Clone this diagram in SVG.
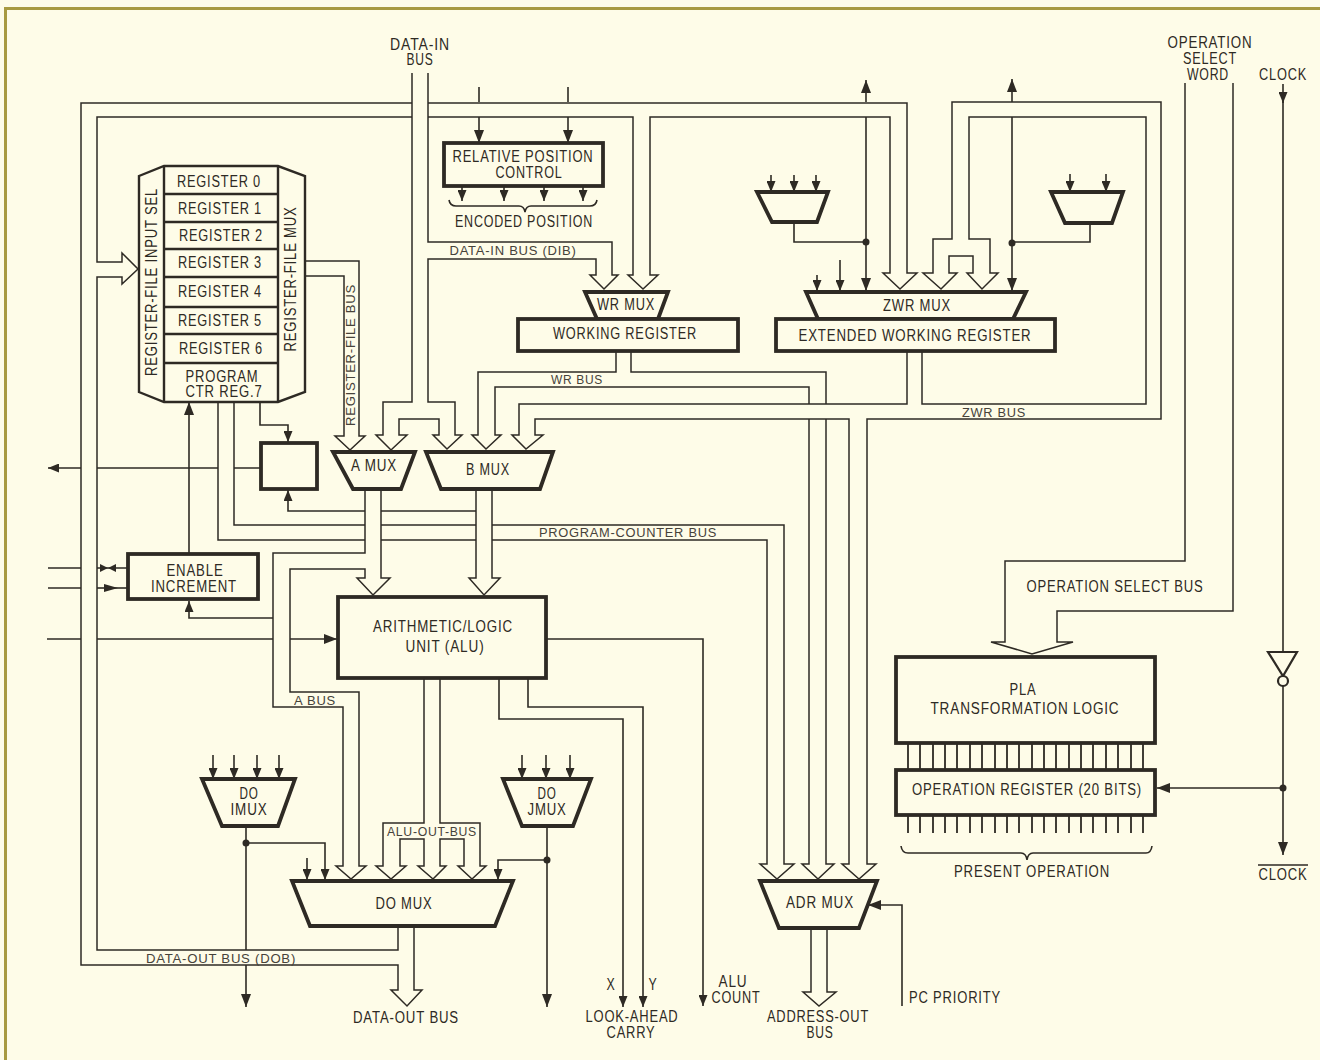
<svg xmlns="http://www.w3.org/2000/svg" width="1320" height="1060" viewBox="0 0 1320 1060">
<style>
.l{fill:none;stroke:#2e2a24;stroke-width:1.5;stroke-linejoin:miter}
.s{fill:none;stroke:#2e2a24;stroke-width:1.6}
.a{marker-end:url(#ah)}
.A{marker-end:url(#AH)}
.n{fill:#fefce8;stroke:#2e2a24;stroke-width:3.8;stroke-linejoin:miter}
.m{fill:#fefce8;stroke:#2e2a24;stroke-width:2.2}
.f{fill:#2e2a24}
text{font-family:"Liberation Sans",Arial,sans-serif;font-size:16px;letter-spacing:1px;text-anchor:middle;fill:#2e2a24}
text.b{font-size:12.5px;letter-spacing:.7px;fill:#46423a}
text.st{text-anchor:start}
</style>
<defs>
<marker id="ah" markerUnits="userSpaceOnUse" markerWidth="11" markerHeight="9" refX="11" refY="4.5" orient="auto"><path d="M0,0L11,4.5L0,9Z" fill="#2e2a24"/></marker>
<marker id="AH" markerUnits="userSpaceOnUse" markerWidth="13" markerHeight="10" refX="13" refY="5" orient="auto"><path d="M0,0L13,5L0,10Z" fill="#2e2a24"/></marker>
</defs>
<rect width="1320" height="1060" fill="#fefce8"/>
<path d="M1320,8.5H5.5V1060" fill="none" stroke="#a89a40" stroke-width="3"/>

<g id="connectors">
<path class="l" d="M412,103H81V965H398V990H391L407,1006L422,990H414V927"/>
<path class="l" d="M412,117H97V262H122V253L138,269L122,284V277H97V950H398V927"/>
<path class="l" d="M428,103H907V273H917L900,289L883,273H890V117H650V275H658L643,289L628,275H633V117H428"/>
<path class="l" d="M412,73V402H383V435H376L391,450L407,435H399V419H439V435H433L447,449L462,435H455V402H428V259H596V275H590L604,289L618,275H612V242H428V73"/>
<path class="l" d="M306,261H359V436H365L350,450L335,436H344V276H306"/>
<path class="l" d="M616,352V372H478V435H472L486,449L501,435H495V387H809V404M809,419V864H802L818,879L834,864H826V419M826,404V372H631V352"/>
<path class="l" d="M907,352V404H519V435H512L526,449L543,435H535V419H849V864H842L859,879L876,864H867V419H1161V102H952V239H933V273H923L941,289L957,273H949V256H973V273H967L982,289L998,273H990V239H969V117H1146V404H922V352"/>
<path class="l" d="M218,402V540H365M381,540H476M234,402V525H365M381,525H476M492,525H784V864H794L777,879L760,864H767V540H492M381,511H476"/>
<path class="l" d="M365,489V553H273V707H343V866H336L351,879L366,866H359V692H290V569H365V578H357L373,595L390,578H381V489"/>
<path class="l" d="M476,489V578H469L484,595L500,578H492V489"/>
<path class="l" d="M424,678V823H383V866H376L391,879L406,866H400V839H424V866H418L433,879L446,866H440V839H464V866H458L472,879L486,866H480V823H440V678"/>
<path class="l" d="M1185,83V561H1005V642H991L1032,654L1073,642H1057V611H1233V83"/>
<path class="l" d="M811,928V992H803L819,1006L836,992H827V928"/>

<path class="s A" d="M866,102V80"/>
<path class="s A" d="M866,117V291"/>
<path class="s A" d="M1012,102V79"/>
<path class="s A" d="M1012,117V291"/>
<path class="s" d="M794,222V242H866M1090,223V242H1012"/>
<path class="s a" d="M771,175V192"/><path class="s a" d="M794,175V192"/><path class="s a" d="M816,175V192"/>
<path class="s a" d="M1070,174V192"/><path class="s a" d="M1106,174V192"/>
<path class="s a" d="M817,275V291"/><path class="s a" d="M840,260V291"/>
<path class="s" d="M479,87V102M568,87V102"/>
<path class="s A" d="M479,117V143"/><path class="s A" d="M568,117V143"/>
<path class="s a" d="M462,186V201"/><path class="s a" d="M504,186V201"/><path class="s a" d="M544,186V201"/><path class="s a" d="M583,186V201"/>
<path class="s" d="M449,200Q450,206 456,206H519Q524,206 525,212Q526,206 531,206H590Q596,206 597,200"/>
<path class="s a" d="M260,402V425H288V442"/>
<path class="s a" d="M365,511H288V490"/>
<path class="s" d="M261,468H234M218,468H97"/>
<path class="s a" d="M81,468H48"/>
<path class="s A" d="M189,554V402"/>
<path class="s a" d="M273,618H189V601"/>
<path class="s" d="M48,568H81M97,568H128"/>
<path class="f" d="M100,564L108,568L100,572ZM116,564L108,568L116,572Z"/>
<path class="s" d="M48,588H81"/>
<path class="s" d="M97,588H128"/>
<path class="f" d="M104,584L118,588L104,592Z"/>
<path class="s" d="M47,639H81M97,639H273"/>
<path class="s A" d="M290,639H337"/>
<path class="s a" d="M546,639H703V1006"/>
<path class="s a" d="M499,678V719H623V1007"/>
<path class="s a" d="M528,678V707H643V1007"/>
<path class="s a" d="M213,755V779"/><path class="s a" d="M234,755V779"/><path class="s a" d="M257,755V779"/><path class="s a" d="M279,755V779"/>
<path class="s a" d="M522,755V779"/><path class="s a" d="M546,755V779"/><path class="s a" d="M570,755V779"/>
<path class="s" d="M246,826V950"/>
<path class="s A" d="M246,965V1007"/>
<path class="s A" d="M547,826V1007"/>
<path class="s a" d="M246,843H325V880"/>
<path class="s a" d="M547,860H498V880"/>
<path class="s a" d="M307,858V880"/>
<path class="s A" d="M902,1006V905H868"/>
<path class="s a" d="M1283,84V103"/>
<path class="s" d="M1283,100V652M1283,686V800"/>
<path class="s A" d="M1283,800V855"/>
<path class="s A" d="M1283,788H1157"/>
<path class="l" style="stroke-width:1.8" d="M908,743V770M920,743V770M933,743V770M945,743V770M957,743V770M970,743V770M982,743V770M995,743V770M1007,743V770M1019,743V770M1032,743V770M1044,743V770M1056,743V770M1069,743V770M1081,743V770M1093,743V770M1106,743V770M1118,743V770M1131,743V770M1143,743V770"/>
<path class="l" style="stroke-width:1.8" d="M908,815V833M920,815V833M933,815V833M945,815V833M957,815V833M970,815V833M982,815V833M995,815V833M1007,815V833M1019,815V833M1032,815V833M1044,815V833M1056,815V833M1069,815V833M1081,815V833M1093,815V833M1106,815V833M1118,815V833M1131,815V833M1143,815V833"/>
<path class="s" d="M901,846Q902,853 908,853H1021Q1026,853 1027,860Q1028,853 1033,853H1146Q1151,853 1152,846"/>
<circle class="f" cx="866" cy="242" r="3.5"/>
<circle class="f" cx="1012" cy="243" r="3.5"/>
<circle class="f" cx="246" cy="843" r="3.5"/>
<circle class="f" cx="547" cy="860" r="3.5"/>
<circle class="f" cx="1283" cy="788" r="3.5"/>
</g>

<g id="register-file">
<path class="m" style="stroke-width:2.4" d="M139,176L164,166H278L305,176V392L278,402H164L139,392Z"/>
<path class="m" style="stroke-width:2.4" d="M164,166V402M278,166V402"/>
<path class="m" style="stroke-width:2.4" d="M164,194H278M164,222H278M164,249H278M164,277H278M164,307H278M164,334H278M164,363H278"/>
<text x="219" y="187" textLength="84" lengthAdjust="spacingAndGlyphs">REGISTER 0</text>
<text x="220" y="214" textLength="84" lengthAdjust="spacingAndGlyphs">REGISTER 1</text>
<text x="221" y="241" textLength="84" lengthAdjust="spacingAndGlyphs">REGISTER 2</text>
<text x="220" y="268" textLength="84" lengthAdjust="spacingAndGlyphs">REGISTER 3</text>
<text x="220" y="297" textLength="84" lengthAdjust="spacingAndGlyphs">REGISTER 4</text>
<text x="220" y="326" textLength="84" lengthAdjust="spacingAndGlyphs">REGISTER 5</text>
<text x="221" y="354" textLength="84" lengthAdjust="spacingAndGlyphs">REGISTER 6</text>
<text x="222" y="382" textLength="73" lengthAdjust="spacingAndGlyphs">PROGRAM</text>
<text x="224" y="397" textLength="77" lengthAdjust="spacingAndGlyphs">CTR REG.7</text>
<text transform="translate(157,282) rotate(-90)" textLength="188" lengthAdjust="spacingAndGlyphs">REGISTER-FILE INPUT SEL</text>
<text transform="translate(296,279) rotate(-90)" textLength="145" lengthAdjust="spacingAndGlyphs">REGISTER-FILE MUX</text>
</g>
<g id="unlabeled-box"><rect class="n" x="261" y="443" width="56" height="46"/></g>
<g id="a-mux"><path class="n" d="M333,452H415L401,489H353Z"/><text x="374" y="471" textLength="46" lengthAdjust="spacingAndGlyphs">A MUX</text></g>
<g id="b-mux"><path class="n" d="M426,452H553L540,489H441Z"/><text x="488" y="475" textLength="44" lengthAdjust="spacingAndGlyphs">B MUX</text></g>
<g id="relative-position-control"><rect class="n" x="444" y="143" width="159" height="43"/><text x="523" y="162" textLength="141" lengthAdjust="spacingAndGlyphs">RELATIVE POSITION</text><text x="529" y="178" textLength="67" lengthAdjust="spacingAndGlyphs">CONTROL</text></g>
<g id="encoded-position"><text x="524" y="227" textLength="138" lengthAdjust="spacingAndGlyphs">ENCODED POSITION</text></g>
<g id="wr-mux"><path class="n" d="M585,292H668L658,319H597Z"/><text x="626" y="310" textLength="58" lengthAdjust="spacingAndGlyphs">WR MUX</text></g>
<g id="working-register"><rect class="n" x="518" y="319" width="220" height="32"/><text x="625" y="339" textLength="144" lengthAdjust="spacingAndGlyphs">WORKING REGISTER</text></g>
<g id="zwr-mux"><path class="n" d="M806,292H1026L1013,319H818Z"/><text x="917" y="311" textLength="68" lengthAdjust="spacingAndGlyphs">ZWR MUX</text></g>
<g id="extended-working-register"><rect class="n" x="776" y="319" width="279" height="32"/><text x="915" y="341" textLength="233" lengthAdjust="spacingAndGlyphs">EXTENDED WORKING REGISTER</text></g>
<g id="upper-mux-left"><path class="n" d="M757,192H828L817,222H772Z"/></g>
<g id="upper-mux-right"><path class="n" d="M1051,192H1123L1112,223H1065Z"/></g>
<g id="enable-increment"><rect class="n" x="128" y="554" width="130" height="45"/><text x="195" y="576" textLength="57" lengthAdjust="spacingAndGlyphs">ENABLE</text><text x="194" y="592" textLength="86" lengthAdjust="spacingAndGlyphs">INCREMENT</text></g>
<g id="alu"><rect class="n" x="338" y="597" width="208" height="81"/><text x="443" y="632" textLength="140" lengthAdjust="spacingAndGlyphs">ARITHMETIC/LOGIC</text><text x="445" y="652" textLength="79" lengthAdjust="spacingAndGlyphs">UNIT (ALU)</text></g>
<g id="do-imux"><path class="n" d="M202,779H295L278,826H222Z"/><text x="249" y="799" textLength="19" lengthAdjust="spacingAndGlyphs">DO</text><text x="249" y="815" textLength="37" lengthAdjust="spacingAndGlyphs">IMUX</text></g>
<g id="do-jmux"><path class="n" d="M503,779H591L573,826H522Z"/><text x="547" y="799" textLength="19" lengthAdjust="spacingAndGlyphs">DO</text><text x="547" y="815" textLength="39" lengthAdjust="spacingAndGlyphs">JMUX</text></g>
<g id="do-mux"><path class="n" d="M292,881H513L495,926H310Z"/><text x="404" y="909" textLength="57" lengthAdjust="spacingAndGlyphs">DO MUX</text></g>
<g id="adr-mux"><path class="n" d="M760,881H877L859,928H779Z"/><text x="820" y="908" textLength="68" lengthAdjust="spacingAndGlyphs">ADR MUX</text></g>
<g id="pla"><rect class="n" x="896" y="657" width="259" height="86"/><text x="1023" y="695" textLength="27" lengthAdjust="spacingAndGlyphs">PLA</text><text x="1025" y="714" textLength="189" lengthAdjust="spacingAndGlyphs">TRANSFORMATION LOGIC</text></g>
<g id="operation-register"><rect class="n" x="896" y="770" width="259" height="45"/><text x="1027" y="795" textLength="230" lengthAdjust="spacingAndGlyphs">OPERATION REGISTER (20 BITS)</text></g>
<g id="inverter"><path class="m" d="M1268,652H1297L1283,676Z"/><circle class="m" cx="1283" cy="681" r="5"/></g>

<g id="labels">
<text x="420" y="50" textLength="60" lengthAdjust="spacingAndGlyphs">DATA-IN</text><text x="420" y="65" textLength="27" lengthAdjust="spacingAndGlyphs">BUS</text>
<text x="1210" y="48" textLength="85" lengthAdjust="spacingAndGlyphs">OPERATION</text><text x="1210" y="64" textLength="54" lengthAdjust="spacingAndGlyphs">SELECT</text><text x="1208" y="80" textLength="42" lengthAdjust="spacingAndGlyphs">WORD</text>
<text x="1283" y="80" textLength="48" lengthAdjust="spacingAndGlyphs">CLOCK</text>
<text class="b" x="513" y="255" textLength="127" lengthAdjust="spacingAndGlyphs">DATA-IN BUS (DIB)</text>
<text class="b" x="577" y="384" textLength="52" lengthAdjust="spacingAndGlyphs">WR BUS</text>
<text class="b" x="994" y="417" textLength="64" lengthAdjust="spacingAndGlyphs">ZWR BUS</text>
<text class="b" transform="translate(355,355) rotate(-90)" textLength="142" lengthAdjust="spacingAndGlyphs">REGISTER-FILE BUS</text>
<text class="b" x="628" y="537" textLength="178" lengthAdjust="spacingAndGlyphs">PROGRAM-COUNTER BUS</text>
<text class="b" x="315" y="705" textLength="42" lengthAdjust="spacingAndGlyphs">A BUS</text>
<text class="b" x="432" y="836" textLength="90" lengthAdjust="spacingAndGlyphs">ALU-OUT-BUS</text>
<text class="b" x="221" y="963" textLength="150" lengthAdjust="spacingAndGlyphs">DATA-OUT BUS (DOB)</text>
<text x="1115" y="592" textLength="177" lengthAdjust="spacingAndGlyphs">OPERATION SELECT BUS</text>
<text x="1032" y="877" textLength="156" lengthAdjust="spacingAndGlyphs">PRESENT OPERATION</text>
<text x="1283" y="880" textLength="49" lengthAdjust="spacingAndGlyphs">CLOCK</text>
<path class="s" d="M1258,865H1308"/>
<text x="406" y="1023" textLength="106" lengthAdjust="spacingAndGlyphs">DATA-OUT BUS</text>
<text x="611" y="990" textLength="9" lengthAdjust="spacingAndGlyphs">X</text><text x="653" y="990" textLength="9" lengthAdjust="spacingAndGlyphs">Y</text>
<text x="632" y="1022" textLength="93" lengthAdjust="spacingAndGlyphs">LOOK-AHEAD</text><text x="631" y="1038" textLength="49" lengthAdjust="spacingAndGlyphs">CARRY</text>
<text x="733" y="987" textLength="29" lengthAdjust="spacingAndGlyphs">ALU</text><text x="736" y="1003" textLength="49" lengthAdjust="spacingAndGlyphs">COUNT</text>
<text x="818" y="1022" textLength="102" lengthAdjust="spacingAndGlyphs">ADDRESS-OUT</text><text x="820" y="1038" textLength="27" lengthAdjust="spacingAndGlyphs">BUS</text>
<text class="st" x="909" y="1003" textLength="92" lengthAdjust="spacingAndGlyphs">PC PRIORITY</text>
</g>
</svg>
